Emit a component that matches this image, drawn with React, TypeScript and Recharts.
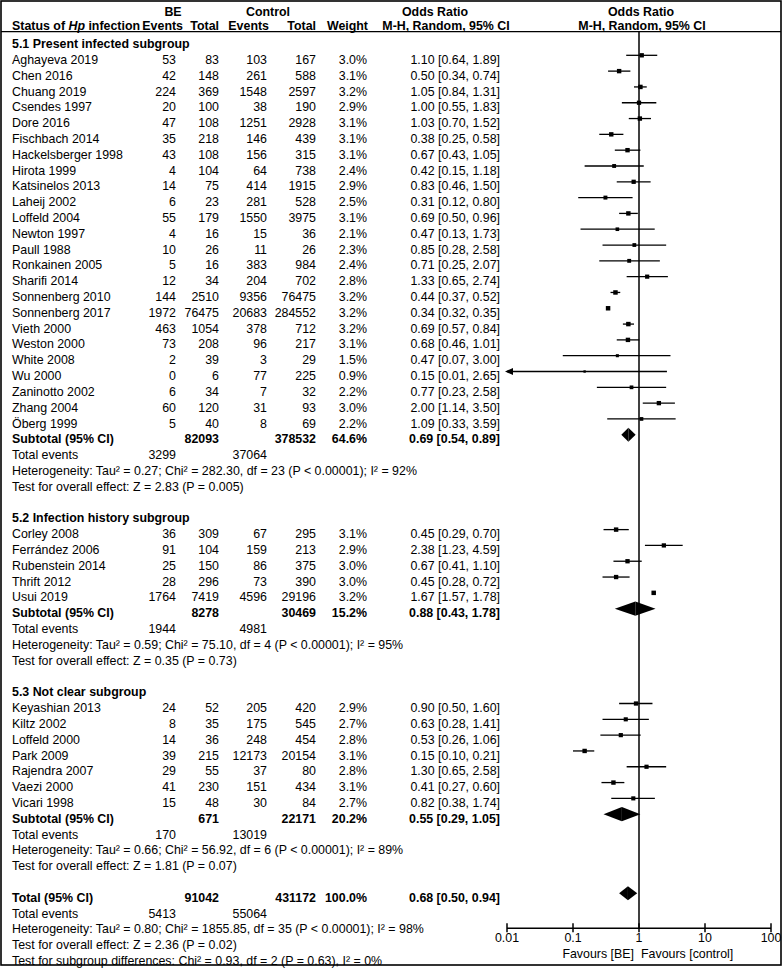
import React from 'react';
import {
  ScatterChart,
  Scatter,
  XAxis,
  YAxis,
  ReferenceLine,
  ReferenceArea,
  ReferenceDot,
} from 'recharts';

// [study, BE events, BE total, control events, control total, weight %, OR, lower, upper]
type Study = [string, number, number, number, number, number, number, number, number];

const presentStudies: Study[] = [
  ['Aghayeva 2019', 53, 83, 103, 167, 3.0, 1.1, 0.64, 1.89],
  ['Chen 2016', 42, 148, 261, 588, 3.1, 0.5, 0.34, 0.74],
  ['Chuang 2019', 224, 369, 1548, 2597, 3.2, 1.05, 0.84, 1.31],
  ['Csendes 1997', 20, 100, 38, 190, 2.9, 1.0, 0.55, 1.83],
  ['Dore 2016', 47, 108, 1251, 2928, 3.1, 1.03, 0.7, 1.52],
  ['Fischbach 2014', 35, 218, 146, 439, 3.1, 0.38, 0.25, 0.58],
  ['Hackelsberger 1998', 43, 108, 156, 315, 3.1, 0.67, 0.43, 1.05],
  ['Hirota 1999', 4, 104, 64, 738, 2.4, 0.42, 0.15, 1.18],
  ['Katsinelos 2013', 14, 75, 414, 1915, 2.9, 0.83, 0.46, 1.5],
  ['Laheij 2002', 6, 23, 281, 528, 2.5, 0.31, 0.12, 0.8],
  ['Loffeld 2004', 55, 179, 1550, 3975, 3.1, 0.69, 0.5, 0.96],
  ['Newton 1997', 4, 16, 15, 36, 2.1, 0.47, 0.13, 1.73],
  ['Paull 1988', 10, 26, 11, 26, 2.3, 0.85, 0.28, 2.58],
  ['Ronkainen 2005', 5, 16, 383, 984, 2.4, 0.71, 0.25, 2.07],
  ['Sharifi 2014', 12, 34, 204, 702, 2.8, 1.33, 0.65, 2.74],
  ['Sonnenberg 2010', 144, 2510, 9356, 76475, 3.2, 0.44, 0.37, 0.52],
  ['Sonnenberg 2017', 1972, 76475, 20683, 284552, 3.2, 0.34, 0.32, 0.35],
  ['Vieth 2000', 463, 1054, 378, 712, 3.2, 0.69, 0.57, 0.84],
  ['Weston 2000', 73, 208, 96, 217, 3.1, 0.68, 0.46, 1.01],
  ['White 2008', 2, 39, 3, 29, 1.5, 0.47, 0.07, 3.0],
  ['Wu 2000', 0, 6, 77, 225, 0.9, 0.15, 0.01, 2.65],
  ['Zaninotto 2002', 6, 34, 7, 32, 2.2, 0.77, 0.23, 2.58],
  ['Zhang 2004', 60, 120, 31, 93, 3.0, 2.0, 1.14, 3.5],
  ['Öberg 1999', 5, 40, 8, 69, 2.2, 1.09, 0.33, 3.59],
];

const historyStudies: Study[] = [
  ['Corley 2008', 36, 309, 67, 295, 3.1, 0.45, 0.29, 0.7],
  ['Ferrández 2006', 91, 104, 159, 213, 2.9, 2.38, 1.23, 4.59],
  ['Rubenstein 2014', 25, 150, 86, 375, 3.0, 0.67, 0.41, 1.1],
  ['Thrift 2012', 28, 296, 73, 390, 3.0, 0.45, 0.28, 0.72],
  ['Usui 2019', 1764, 7419, 4596, 29196, 3.2, 1.67, 1.57, 1.78],
];

const unclearStudies: Study[] = [
  ['Keyashian 2013', 24, 52, 205, 420, 2.9, 0.9, 0.5, 1.6],
  ['Kiltz 2002', 8, 35, 175, 545, 2.7, 0.63, 0.28, 1.41],
  ['Loffeld 2000', 14, 36, 248, 454, 2.8, 0.53, 0.26, 1.06],
  ['Park 2009', 39, 215, 12173, 20154, 3.1, 0.15, 0.1, 0.21],
  ['Rajendra 2007', 29, 55, 37, 80, 2.8, 1.3, 0.65, 2.58],
  ['Vaezi 2000', 41, 230, 151, 434, 3.1, 0.41, 0.27, 0.6],
  ['Vicari 1998', 15, 48, 30, 84, 2.7, 0.82, 0.38, 1.74],
];

const groupTitles = [
  '5.1 Present infected subgroup',
  '5.2 Infection history subgroup',
  '5.3 Not clear subgroup',
];

// [BE total, control total, weight %, OR, lower, upper]
const subtotals = [
  [82093, 378532, 64.6, 0.69, 0.54, 0.89],
  [8278, 30469, 15.2, 0.88, 0.43, 1.78],
  [671, 22171, 20.2, 0.55, 0.29, 1.05],
];
const subtotalEvents = [
  [3299, 37064],
  [1944, 4981],
  [170, 13019],
];
const heterogeneity = [
  'Heterogeneity: Tau² = 0.27; Chi² = 282.30, df = 23 (P < 0.00001); I² = 92%',
  'Heterogeneity: Tau² = 0.59; Chi² = 75.10, df = 4 (P < 0.00001); I² = 95%',
  'Heterogeneity: Tau² = 0.66; Chi² = 56.92, df = 6 (P < 0.00001); I² = 89%',
];
const overallTests = [
  'Test for overall effect: Z = 2.83 (P = 0.005)',
  'Test for overall effect: Z = 0.35 (P = 0.73)',
  'Test for overall effect: Z = 1.81 (P = 0.07)',
];

const total = [91042, 431172, 100.0, 0.68, 0.5, 0.94];
const totalEvents = [5413, 55064];
const totalHeterogeneity =
  'Heterogeneity: Tau² = 0.80; Chi² = 1855.85, df = 35 (P < 0.00001); I² = 98%';
const totalTest = 'Test for overall effect: Z = 2.36 (P = 0.02)';
const subgroupTest = 'Test for subgroup differences: Chi² = 0.93, df = 2 (P = 0.63), I² = 0%';

const axisTicks = [0.01, 0.1, 1, 10, 100];

const groups = [presentStudies, historyStudies, unclearStudies];

const W = 783;
const H = 970;
const FONT = '"Liberation Sans", Arial, Helvetica, sans-serif';
const FS = 12.4;
const ROW0 = 39.5;
const ROW = 15.81;
const AXIS_Y = 928.3;
const rowY = (k: number) => ROW0 + ROW * k;
const textY = (k: number) => rowY(k) + 8.6;

// column right edges (name column is left aligned)
const X_NAME = 12;
const X_BEE = 176;
const X_BET = 219;
const X_CTE = 267;
const X_CTT = 316;
const X_W = 367;
const X_OR = 500;

const fmtOR = (o: number, l: number, u: number) =>
  `${o.toFixed(2)} [${l.toFixed(2)}, ${u.toFixed(2)}]`;

// lay out rows
type Pt = { x: number; y: number; w: number; lo: number; hi: number };
const points: Pt[] = [];
const diamonds: { k: number; est: number; lo: number; hi: number }[] = [];
const textRows: React.ReactNode[] = [];

let k = 0;
groups.forEach((studies, gi) => {
  textRows.push(
    <text key={`h${gi}`} x={X_NAME} y={textY(k)} fontWeight="bold">
      {groupTitles[gi]}
    </text>
  );
  studies.forEach((s, si) => {
    const r = k + 1 + si;
    points.push({ x: s[6], y: r, w: s[5], lo: s[7], hi: s[8] });
    const y = textY(r);
    textRows.push(
      <g key={`s${gi}-${si}`}>
        <text x={X_NAME} y={y}>{s[0]}</text>
        <text x={X_BEE} y={y} textAnchor="end">{s[1]}</text>
        <text x={X_BET} y={y} textAnchor="end">{s[2]}</text>
        <text x={X_CTE} y={y} textAnchor="end">{s[3]}</text>
        <text x={X_CTT} y={y} textAnchor="end">{s[4]}</text>
        <text x={X_W} y={y} textAnchor="end">{s[5].toFixed(1)}%</text>
        <text x={X_OR} y={y} textAnchor="end">{fmtOR(s[6], s[7], s[8])}</text>
      </g>
    );
  });
  const sk = k + studies.length + 1;
  const st = subtotals[gi];
  diamonds.push({ k: sk, est: st[3], lo: st[4], hi: st[5] });
  textRows.push(
    <g key={`st${gi}`} fontWeight="bold">
      <text x={X_NAME} y={textY(sk)}>Subtotal (95% CI)</text>
      <text x={X_BET} y={textY(sk)} textAnchor="end">{st[0]}</text>
      <text x={X_CTT} y={textY(sk)} textAnchor="end">{st[1]}</text>
      <text x={X_W} y={textY(sk)} textAnchor="end">{st[2].toFixed(1)}%</text>
      <text x={X_OR} y={textY(sk)} textAnchor="end">{fmtOR(st[3], st[4], st[5])}</text>
    </g>,
    <g key={`te${gi}`}>
      <text x={X_NAME} y={textY(sk + 1)}>Total events</text>
      <text x={X_BEE} y={textY(sk + 1)} textAnchor="end">{subtotalEvents[gi][0]}</text>
      <text x={X_CTE} y={textY(sk + 1)} textAnchor="end">{subtotalEvents[gi][1]}</text>
      <text x={X_NAME} y={textY(sk + 2)}>{heterogeneity[gi]}</text>
      <text x={X_NAME} y={textY(sk + 3)}>{overallTests[gi]}</text>
    </g>
  );
  k = sk + 5;
});

const tk = k;
diamonds.push({ k: tk, est: total[3], lo: total[4], hi: total[5] });
textRows.push(
  <g key="tot" fontWeight="bold">
    <text x={X_NAME} y={textY(tk)}>Total (95% CI)</text>
    <text x={X_BET} y={textY(tk)} textAnchor="end">{total[0]}</text>
    <text x={X_CTT} y={textY(tk)} textAnchor="end">{total[1]}</text>
    <text x={X_W} y={textY(tk)} textAnchor="end">{total[2].toFixed(1)}%</text>
    <text x={X_OR} y={textY(tk)} textAnchor="end">{fmtOR(total[3], total[4], total[5])}</text>
  </g>,
  <g key="tot2">
    <text x={X_NAME} y={textY(tk + 1)}>Total events</text>
    <text x={X_BEE} y={textY(tk + 1)} textAnchor="end">{totalEvents[0]}</text>
    <text x={X_CTE} y={textY(tk + 1)} textAnchor="end">{totalEvents[1]}</text>
    <text x={X_NAME} y={textY(tk + 2)}>{totalHeterogeneity}</text>
    <text x={X_NAME} y={textY(tk + 3)}>{totalTest}</text>
    <text x={X_NAME} y={textY(tk + 4)}>{subgroupTest}</text>
  </g>
);

const yTop = -0.5;
const yBottom = (AXIS_Y - ROW0) / ROW;
const HALF = 0.45;

const Square = (p: any) => {
  const s = 2.5 * Math.sqrt(p.payload.w);
  return <rect x={p.cx - s / 2} y={p.cy - s / 2} width={s} height={s} fill="#000" />;
};

const LeftHalf = (p: any) => (
  <polygon
    points={`${p.x},${p.y + p.height / 2} ${p.x + p.width},${p.y} ${p.x + p.width},${p.y + p.height}`}
    fill="#000"
  />
);
const RightHalf = (p: any) => (
  <polygon
    points={`${p.x},${p.y} ${p.x + p.width},${p.y + p.height / 2} ${p.x},${p.y + p.height}`}
    fill="#000"
  />
);

const Arrow = (p: any) => (
  <polygon
    points={`${p.cx - 2},${p.cy} ${p.cx + 6},${p.cy - 3.5} ${p.cx + 6},${p.cy + 3.5}`}
    fill="#000"
  />
);

const AxisTick = (p: any) => (
  <g>
    <line x1={p.x} x2={p.x} y1={p.y - 5} y2={p.y + 4} stroke="#000" strokeWidth={1.5} />
    <text
      x={p.x}
      y={p.y + 14}
      textAnchor="middle"
      fill="#000"
      fontSize={FS}
      fontFamily={FONT}
    >
      {String(p.payload.value)}
    </text>
  </g>
);

export default function App() {
  return (
    <div style={{ position: 'relative', width: W, height: H, background: '#fff' }}>
      <style>{'body{margin:0;background:#fff}'}</style>
      <div style={{ position: 'absolute', left: 0, top: 0 }}>
        <ScatterChart
          width={W}
          height={H}
          margin={{ top: rowY(yTop), right: 12, bottom: 0, left: 507 }}
        >
          <XAxis
            type="number"
            dataKey="x"
            scale="log"
            domain={[0.01, 100]}
            ticks={axisTicks}
            allowDataOverflow
            height={H - AXIS_Y}
            axisLine={{ stroke: '#000', strokeWidth: 1.5 }}
            tickLine={false}
            tickSize={0}
            tickMargin={0}
            tick={<AxisTick />}
            interval={0}
          />
          <YAxis type="number" dataKey="y" domain={[yTop, yBottom]} reversed hide allowDataOverflow />
          <ReferenceLine x={1} stroke="#000" strokeWidth={1.5} />
          {points.map((p, i) => (
            <ReferenceLine
              key={`ci${i}`}
              segment={[
                { x: p.lo, y: p.y },
                { x: p.hi, y: p.y },
              ]}
              stroke="#000"
              strokeWidth={1.3}
              ifOverflow="visible"
            />
          ))}
          {points
            .filter((p) => p.lo <= 0.01)
            .map((p, i) => (
              <ReferenceDot key={`ar${i}`} x={0.01} y={p.y} shape={<Arrow />} ifOverflow="visible" />
            ))}
          {diamonds.map((d, i) => (
            <ReferenceArea
              key={`dl${i}`}
              x1={d.lo}
              x2={d.est}
              y1={d.k - HALF}
              y2={d.k + HALF}
              shape={<LeftHalf />}
              ifOverflow="visible"
            />
          ))}
          {diamonds.map((d, i) => (
            <ReferenceArea
              key={`dr${i}`}
              x1={d.est}
              x2={d.hi}
              y1={d.k - HALF}
              y2={d.k + HALF}
              shape={<RightHalf />}
              ifOverflow="visible"
            />
          ))}
          <Scatter data={points} shape={<Square />} isAnimationActive={false} />
        </ScatterChart>
      </div>
      <svg
        width={W}
        height={H}
        style={{ position: 'absolute', left: 0, top: 0, pointerEvents: 'none' }}
        fontFamily={FONT}
        fontSize={FS}
        fill="#000"
      >
        <rect x={1} y={1} width={780} height={964} fill="none" stroke="#000" strokeWidth={1.6} />
        <line x1={1} x2={781} y1={31.6} y2={31.6} stroke="#000" strokeWidth={1.3} />
        <g fontWeight="bold">
          <text x={173} y={16} textAnchor="middle">BE</text>
          <text x={268} y={16} textAnchor="middle">Control</text>
          <text x={435} y={16} textAnchor="middle">Odds Ratio</text>
          <text x={641} y={16} textAnchor="middle">Odds Ratio</text>
          <text x={X_NAME} y={29.5}>
            Status of <tspan fontStyle="italic">Hp</tspan> infection
          </text>
          <text x={183} y={29.5} textAnchor="end">Events</text>
          <text x={219} y={29.5} textAnchor="end">Total</text>
          <text x={269} y={29.5} textAnchor="end">Events</text>
          <text x={316} y={29.5} textAnchor="end">Total</text>
          <text x={368} y={29.5} textAnchor="end">Weight</text>
          <text x={446} y={29.5} textAnchor="middle">M-H, Random, 95% CI</text>
          <text x={642} y={29.5} textAnchor="middle">M-H, Random, 95% CI</text>
        </g>
        {textRows}
        <text x={634} y={958} textAnchor="end">Favours [BE]</text>
        <text x={641} y={958}>Favours [control]</text>
      </svg>
    </div>
  );
}
